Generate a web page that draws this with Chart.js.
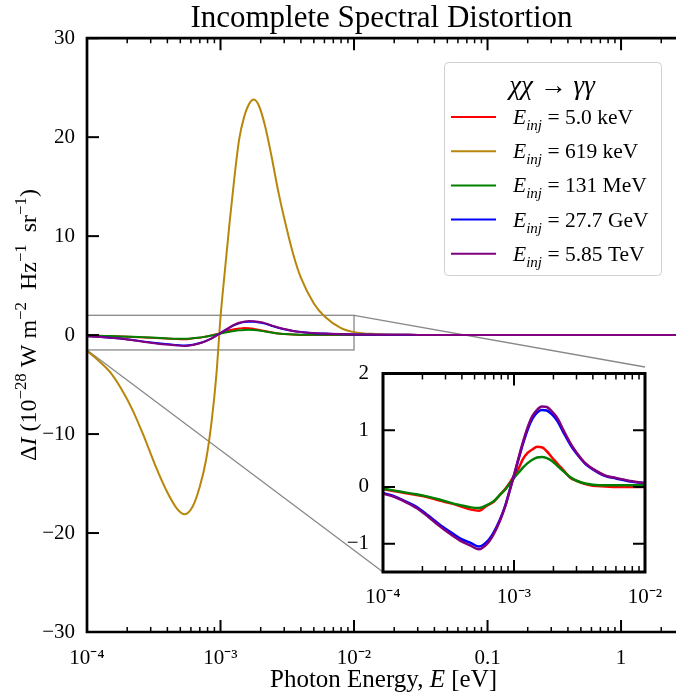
<!DOCTYPE html>
<html><head><meta charset="utf-8">
<script src="https://cdn.jsdelivr.net/npm/chart.js@4.4.1/dist/chart.umd.min.js"></script>
<style>
html,body{margin:0;padding:0;background:#fff;overflow:hidden;}
#wrap{position:relative;width:676px;height:696px;}
#main{position:absolute;left:0;top:0;}
#inset{position:absolute;left:310px;top:355px;}
</style></head><body>
<div id="wrap"><canvas id="main" width="676" height="696"></canvas><canvas id="inset" width="362" height="250"></canvas></div>
<script>
// ---------------- data ----------------
const energies = [1.0e-4, 1.2e-4, 1.5e-4, 1.8e-4, 2.2e-4, 2.7e-4, 3.3e-4, 3.9e-4, 4.7e-4, 5.4e-4, 6.2e-4, 7.0e-4, 7.8e-4, 8.6e-4, 9.3e-4,
  1.0e-3, 1.08e-3, 1.17e-3, 1.27e-3, 1.38e-3, 1.5e-3, 1.63e-3, 1.78e-3, 1.95e-3, 2.15e-3, 2.4e-3, 2.7e-3, 3.0e-3, 3.5e-3, 4.0e-3, 5.0e-3, 6.0e-3, 8.0e-3,
  1.0e-2, 1.5e-2, 2.0e-2, 3.0e-2, 5.0e-2, 0.1, 0.3, 1.0, 3.0];
const dI_5keV = [-0.04, -0.07, -0.11, -0.14, -0.18, -0.24, -0.29, -0.34, -0.40, -0.42, -0.33, -0.26, -0.14, -0.03, 0.08,
  0.20, 0.32, 0.49, 0.60, 0.66, 0.71, 0.70, 0.63, 0.52, 0.41, 0.29, 0.16, 0.11, 0.05, 0.02, 0.01, 0, 0,
  0, 0, 0, 0, 0, 0, 0, 0, 0];
const dI_619keV = [-1.6, -2.5, -3.8, -5.4, -7.6, -10.4, -13.4, -15.6, -17.5, -18.1, -17.3, -15.3, -12.6, -8.6, -4.1,
  1.8, 6.6, 11.4, 15.9, 19.8, 22.0, 23.3, 23.8, 23.1, 21.2, 18.2, 14.6, 11.8, 8.2, 5.8, 3.2, 1.9, 0.7,
  0.3, 0.1, 0.05, 0.02, 0, 0, 0, 0, 0];
const dI_131MeV = [-0.03, -0.06, -0.10, -0.13, -0.17, -0.22, -0.28, -0.32, -0.36, -0.37, -0.32, -0.25, -0.14, -0.04, 0.06,
  0.16, 0.25, 0.34, 0.42, 0.48, 0.52, 0.53, 0.51, 0.46, 0.37, 0.27, 0.17, 0.11, 0.06, 0.04, 0.03, 0.03, 0.03,
  0.03, 0.02, 0.02, 0.01, 0.01, 0, 0, 0, 0];
const dI_27GeV = [-0.11, -0.16, -0.26, -0.35, -0.50, -0.66, -0.80, -0.91, -0.99, -1.05, -0.97, -0.80, -0.58, -0.32, -0.05,
  0.20, 0.48, 0.76, 1.01, 1.20, 1.31, 1.36, 1.35, 1.28, 1.16, 0.95, 0.74, 0.59, 0.41, 0.31, 0.19, 0.15, 0.09,
  0.07, 0.04, 0.03, 0.02, 0.01, 0.005, 0, 0, 0];
const dI_585TeV = [-0.12, -0.17, -0.27, -0.37, -0.52, -0.69, -0.84, -0.95, -1.04, -1.10, -1.01, -0.83, -0.60, -0.33, -0.05,
  0.21, 0.50, 0.79, 1.05, 1.25, 1.36, 1.42, 1.41, 1.33, 1.21, 0.99, 0.77, 0.61, 0.42, 0.32, 0.20, 0.16, 0.10,
  0.07, 0.04, 0.03, 0.02, 0.01, 0.005, 0, 0, 0];
const seriesLabels = ['5.0 keV', '619 keV', '131 MeV', '27.7 GeV', '5.85 TeV'];
const seriesColors = ['#ff0000', '#b8860b', '#008000', '#0000ff', '#800080'];
const seriesValues = [dI_5keV, dI_619keV, dI_131MeV, dI_27GeV, dI_585TeV];
const insetSeries = [0, 2, 3, 4];

const xMajorValues = [1e-4, 1e-3, 1e-2, 0.1, 1];
const xMajorLabels = ['10\u207B\u2074', '10\u207B\u00B3', '10\u207B\u00B2', '0.1', '1'];
const yTickValues = [-30, -20, -10, 0, 10, 20, 30];
const insetYTickValues = [-1, 0, 1, 2];
const titleText = 'Incomplete Spectral Distortion';

// ---------------- layout constants ----------------
const FONT = "'Liberation Serif', 'Times New Roman', serif";
const X_MAX = 2.58;
const INSET_OFF = {x: 310, y: 355};
const INSET_BOX = {left: 383, right: 645, top: 367, bottom: 572};

function minorTicks(min, max) {
  const out = [];
  for (let d = -6; d <= 2; d++) for (let m = 1; m <= 9; m++) {
    const v = m * Math.pow(10, d);
    if (v >= min * 0.9999 && v <= max * 1.0001) out.push(v);
  }
  return out;
}
function isMajor(v) { return xMajorValues.some(m => Math.abs(v / m - 1) < 1e-6); }
function xLabel(v) { const i = xMajorValues.findIndex(m => Math.abs(v / m - 1) < 1e-6); return i >= 0 ? xMajorLabels[i] : ''; }
function fmtNum(v) { return v < 0 ? '\u2212' + Math.abs(v) : String(v); }

function partFont(p, size) { const s = (p.sup || p.sub) ? size * 0.7 : size; return (p.it ? 'italic ' : '') + s + 'px ' + FONT; }
function richWidth(ctx, parts, size) { let w = 0; for (const p of parts) { ctx.font = partFont(p, size); w += ctx.measureText(p.t).width; } return w; }
function drawRich(ctx, parts, x, y, size, align) {
  const w = richWidth(ctx, parts, size);
  let cx = align === 'center' ? x - w / 2 : (align === 'right' ? x - w : x);
  ctx.textAlign = 'left'; ctx.textBaseline = 'alphabetic'; ctx.fillStyle = '#000';
  for (const p of parts) {
    ctx.font = partFont(p, size);
    const dy = p.sup ? -size * 0.4 : (p.sub ? size * 0.28 : 0);
    ctx.fillText(p.t, cx, y + dy);
    cx += ctx.measureText(p.t).width;
  }
}

function drawFrame(chart, o) {
  const ctx = chart.ctx, a = chart.chartArea, xs = chart.scales.x, ys = chart.scales.y;
  ctx.save();
  ctx.strokeStyle = '#000';
  ctx.lineCap = 'butt';
  for (const t of xs.ticks) {
    const px = xs.getPixelForValue(t.value);
    if (px < a.left - 0.5 || px > a.right + 0.5) continue;
    const major = isMajor(t.value);
    const L = major ? o.major : o.minor;
    ctx.lineWidth = major ? o.tickW : o.minorW;
    ctx.beginPath();
    ctx.moveTo(px, a.bottom); ctx.lineTo(px, a.bottom - L);
    ctx.moveTo(px, a.top); ctx.lineTo(px, a.top + L);
    ctx.stroke();
  }
  ctx.lineWidth = o.tickW;
  for (const t of ys.ticks) {
    const py = ys.getPixelForValue(t.value);
    ctx.beginPath();
    ctx.moveTo(a.left, py); ctx.lineTo(a.left + o.major, py);
    if (o.rightSpine) { ctx.moveTo(a.right, py); ctx.lineTo(a.right - o.major, py); }
    ctx.stroke();
  }
  ctx.lineWidth = o.spine; ctx.lineCap = 'square';
  ctx.beginPath();
  ctx.moveTo(a.right + (o.rightSpine ? 0 : 5), a.top); ctx.lineTo(a.left, a.top); ctx.lineTo(a.left, a.bottom); ctx.lineTo(a.right + (o.rightSpine ? 0 : 5), a.bottom);
  if (o.rightSpine) { ctx.lineTo(a.right, a.top); }
  ctx.stroke();
  ctx.restore();
}

const mainFrame = {
  id: 'mainFrame',
  beforeDatasetsDraw(chart) {
    const ctx = chart.ctx, xs = chart.scales.x, ys = chart.scales.y;
    const x0 = xs.getPixelForValue(1e-4), x1 = xs.getPixelForValue(1e-2);
    const y0 = ys.getPixelForValue(-1.5), y1 = ys.getPixelForValue(2);
    ctx.save();
    ctx.strokeStyle = '#888888'; ctx.lineWidth = 1.3;
    ctx.strokeRect(x0, y1, x1 - x0, y0 - y1);
    ctx.beginPath();
    ctx.moveTo(x1, y1); ctx.lineTo(INSET_BOX.right, INSET_BOX.top);
    ctx.moveTo(x0, y0); ctx.lineTo(INSET_BOX.left, INSET_BOX.bottom);
    ctx.stroke();
    ctx.restore();
  },
  afterDraw(chart) {
    drawFrame(chart, {major: 12, minor: 5, tickW: 2, minorW: 1.5, spine: 2.7, rightSpine: false});
    const ctx = chart.ctx, a = chart.chartArea;
    ctx.save();
    drawRich(ctx, [{t: 'Photon Energy, '}, {t: 'E', it: 1}, {t: ' [eV]'}], (a.left + a.right) / 2 + 2, 687, 25, 'center');
    ctx.save();
    ctx.translate(28, 325);
    ctx.rotate(-Math.PI / 2);
    drawRich(ctx, [{t: '\u0394'}, {t: 'I', it: 1}, {t: ' (10'}, {t: '\u221228', sup: 1}, {t: ' W m'}, {t: '\u22122', sup: 1},
      {t: '  Hz'}, {t: '\u22121', sup: 1}, {t: '  sr'}, {t: '\u22121', sup: 1}, {t: ')'}], 0, 8, 24, 'center');
    ctx.restore();
    // legend
    const L = {x: 444, y: 62, w: 217, h: 213};
    ctx.fillStyle = 'rgba(255,255,255,0.85)'; ctx.strokeStyle = '#d0d0d0'; ctx.lineWidth = 1;
    ctx.beginPath(); ctx.roundRect(L.x + 0.5, L.y + 0.5, L.w, L.h, 4); ctx.fill(); ctx.stroke();
    drawRich(ctx, [{t: '\u03C7\u03C7', it: 1}, {t: ' \u2192 '}, {t: '\u03B3\u03B3', it: 1}], 552, 94, 27, 'center');
    chart.data.datasets.forEach((ds, i) => {
      const cy = 117 + i * 34.2;
      ctx.strokeStyle = ds.borderColor; ctx.lineWidth = 2;
      ctx.beginPath(); ctx.moveTo(451, cy); ctx.lineTo(496, cy); ctx.stroke();
      drawRich(ctx, [{t: 'E', it: 1}, {t: 'inj', it: 1, sub: 1}, {t: ' = ' + seriesLabels[i]}], 513, cy + 7, 21.5, 'left');
    });
    ctx.restore();
  }
};

const insetFrame = {
  id: 'insetFrame',
  beforeDatasetsDraw(chart) {
    const a = chart.chartArea, ctx = chart.ctx;
    ctx.save(); ctx.fillStyle = '#fff'; ctx.fillRect(a.left, a.top, a.right - a.left, a.bottom - a.top); ctx.restore();
  },
  afterDraw(chart) { drawFrame(chart, {major: 12, minor: 6, tickW: 2, minorW: 1.5, spine: 3, rightSpine: true}); }
};

function makeDatasets(idx, width) {
  return idx.map(i => ({
    label: 'E_inj = ' + seriesLabels[i],
    data: energies.map((e, j) => ({x: e, y: seriesValues[i][j]})),
    borderColor: seriesColors[i], backgroundColor: seriesColors[i],
    borderWidth: width, pointRadius: 0, fill: false,
    cubicInterpolationMode: 'monotone', order: 10 - i
  }));
}

Chart.defaults.font.family = FONT;
Chart.defaults.color = '#000';

new Chart(document.getElementById('main'), {
  type: 'line',
  data: {datasets: makeDatasets([0, 1, 2, 3, 4], 2)},
  options: {
    responsive: false, animation: false, events: [],
    layout: {padding: 0},
    plugins: {
      legend: {display: false}, tooltip: {enabled: false},
      title: {display: true, text: titleText, fullSize: false, color: '#000',
        font: {family: FONT, size: 31, weight: 'normal', lineHeight: 1.2}, padding: {top: 0, bottom: 1}}
    },
    scales: {
      x: {type: 'logarithmic', min: 1e-4, max: X_MAX,
        afterBuildTicks: s => { s.ticks = minorTicks(1e-4, X_MAX).map(v => ({value: v})); },
        ticks: {autoSkip: false, maxRotation: 0, minRotation: 0, padding: 6, color: '#000',
          font: {family: FONT, size: 21}, callback: v => xLabel(v)},
        grid: {display: false}, border: {display: false},
        afterFit: s => { s.height = 64; }},
      y: {type: 'linear', min: -30, max: 30,
        afterBuildTicks: s => { s.ticks = yTickValues.map(v => ({value: v})); },
        ticks: {padding: 4, color: '#000', font: {family: FONT, size: 21}, callback: v => fmtNum(v)},
        grid: {display: false}, border: {display: false},
        afterFit: s => { s.width = 87; }}
    }
  },
  plugins: [mainFrame]
});

new Chart(document.getElementById('inset'), {
  type: 'line',
  data: {datasets: makeDatasets(insetSeries, 2.5)},
  options: {
    responsive: false, animation: false, events: [],
    layout: {padding: {top: INSET_BOX.top - INSET_OFF.y, right: 362 - (INSET_BOX.right - INSET_OFF.x), left: 0, bottom: 0}},
    plugins: {legend: {display: false}, tooltip: {enabled: false}},
    scales: {
      x: {type: 'logarithmic', min: 1e-4, max: 1e-2,
        afterBuildTicks: s => { s.ticks = minorTicks(1e-4, 1e-2).map(v => ({value: v})); },
        ticks: {autoSkip: false, maxRotation: 0, minRotation: 0, padding: 5, color: '#000',
          font: {family: FONT, size: 21}, callback: v => xLabel(v)},
        grid: {display: false}, border: {display: false},
        afterFit: s => { s.height = 250 - (INSET_BOX.bottom - INSET_OFF.y); }},
      y: {type: 'linear', min: -1.5, max: 2,
        afterBuildTicks: s => { s.ticks = insetYTickValues.map(v => ({value: v})); },
        ticks: {padding: 6, color: '#000', font: {family: FONT, size: 21}, callback: v => fmtNum(v)},
        grid: {display: false}, border: {display: false},
        afterFit: s => { s.width = INSET_BOX.left - INSET_OFF.x; }}
    }
  },
  plugins: [insetFrame]
});
</script>
</body></html>
